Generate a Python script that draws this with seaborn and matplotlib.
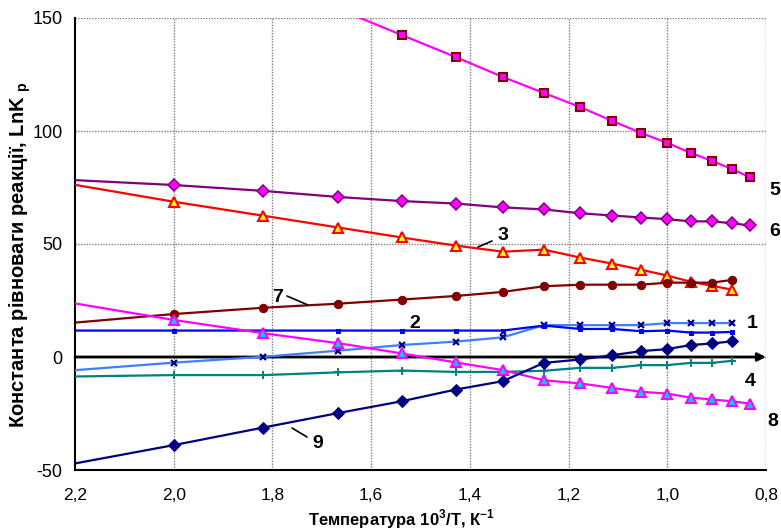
import numpy as np
import pandas as pd
import matplotlib
matplotlib.use("Agg")
import matplotlib.pyplot as plt
import seaborn as sns

# ---- data ----
temperatures = [450, 500, 550, 600, 650, 700, 750, 800, 850, 900, 950, 1000, 1050, 1100, 1150, 1200]
s1 = [-6.2, -2.5, 0.1, 2.8, 5.3, 6.8, 8.7, 14.1, 14.1, 14.1, 14.1, 15.0, 15.0, 15.0, 15.0, None]
s2 = [11.7, 11.7, 11.7, 11.7, 11.7, 11.7, 11.7, 13.9, 12.4, 12.4, 11.4, 11.7, 10.8, 10.8, 11.1, None]
s3 = [77.0, 68.7, 62.5, 57.3, 52.9, 49.3, 46.6, 47.5, 44.0, 41.3, 38.6, 36.0, 33.3, 31.5, 29.8, None]
s4 = [-8.7, -8.0, -8.0, -6.8, -6.0, -6.6, -6.6, -6.1, -4.8, -4.8, -3.6, -3.6, -2.6, -2.6, -1.7, None]
s5 = [None, None, 169.0, 154.0, 142.5, 132.7, 123.9, 116.8, 110.6, 104.4, 99.1, 94.7, 90.3, 86.7, 83.2, 79.6]
s6 = [78.5, 76.1, 73.5, 70.8, 69.0, 67.9, 66.2, 65.3, 63.6, 62.6, 61.7, 61.0, 60.0, 60.0, 59.2, 58.2]
s7 = [14.8, 19.0, 21.8, 23.6, 25.4, 27.0, 28.8, 31.3, 32.0, 32.0, 32.0, 32.9, 32.9, 32.9, 34.1, None]
s8 = [24.5, 16.4, 10.5, 6.1, 1.6, -2.4, -5.8, -10.3, -11.7, -13.7, -15.4, -16.2, -18.0, -18.8, -19.6, -20.6]
s9 = [-48.0, -39.0, -31.2, -24.8, -19.6, -14.4, -10.7, -2.6, -1.1, 0.8, 2.6, 3.5, 5.3, 6.0, 6.9, None]

series_names = ["1", "2", "3", "4", "5", "6", "7", "8", "9"]
series_values = [s1, s2, s3, s4, s5, s6, s7, s8, s9]

x_ticks = [2.2, 2.0, 1.8, 1.6, 1.4, 1.2, 1.0, 0.8]
x_tick_labels = ["2,2", "2,0", "1,8", "1,6", "1,4", "1,2", "1,0", "0,8"]
y_ticks = [-50, 0, 50, 100, 150]
y_tick_labels = ["-50", "0", "50", "100", "150"]

rows = []
for name, vals in zip(series_names, series_values):
    for T, v in zip(temperatures, vals):
        if v is not None:
            rows.append({"series": name, "x": 1000.0 / T, "y": v})
df = pd.DataFrame(rows)

# ---- styles ----
styles = {
    "1": dict(color="#3F7FFF", marker="x", markerfacecolor="#000080", markeredgecolor="#000080", markersize=4.5, markeredgewidth=1.6),
    "2": dict(color="#0000FF", marker="s", markerfacecolor="#0000FF", markeredgecolor="#0000FF", markersize=3.5),
    "3": dict(color="#FF0000", marker="^", markerfacecolor="#FFFF00", markeredgecolor="#FF0000", markersize=7, markeredgewidth=1.5),
    "4": dict(color="#008080", marker="+", markerfacecolor="#008080", markeredgecolor="#008080", markersize=5.5, markeredgewidth=1.4),
    "5": dict(color="#FF00FF", marker="s", markerfacecolor="#FF00FF", markeredgecolor="#800000", markersize=5.5, markeredgewidth=1.5),
    "6": dict(color="#800080", marker="D", markerfacecolor="#FF00FF", markeredgecolor="#800080", markersize=6, markeredgewidth=1.1),
    "7": dict(color="#800000", marker="o", markerfacecolor="#800000", markeredgecolor="#800000", markersize=6),
    "8": dict(color="#FF00FF", marker="^", markerfacecolor="#00CCFF", markeredgecolor="#FF00FF", markersize=7, markeredgewidth=1.5),
    "9": dict(color="#000080", marker="D", markerfacecolor="#000080", markeredgecolor="#000080", markersize=6),
}

sns.set_theme(style="white")
plt.rcParams["font.family"] = ["Liberation Sans", "DejaVu Sans"]
plt.rcParams["mathtext.fontset"] = "custom"
plt.rcParams["mathtext.rm"] = "Liberation Sans"
plt.rcParams["mathtext.bf"] = "Liberation Sans:bold"
plt.rcParams["axes.unicode_minus"] = False

fig = plt.figure(figsize=(7.81, 5.32), dpi=100)
ax = fig.add_axes([75 / 781, 1 - 470 / 532, (766 - 75) / 781, (470 - 18) / 532])

# grid
for xv in x_ticks[1:]:
    ax.axvline(xv, color="#808080", lw=1, ls=(0, (1, 1)), zorder=0)
for yv in y_ticks[1:]:
    ax.axhline(yv, color="#808080", lw=1, ls=(0, (1, 1)), zorder=0)

for name in series_names:
    d = df[df["series"] == name]
    sns.lineplot(data=d, x="x", y="y", ax=ax, sort=False, estimator=None,
                 linewidth=1.6, legend=False, zorder=3, **styles[name])

ax.set_xlim(2.2, 0.8)
ax.set_ylim(-50, 150)
ax.set_xticks(x_ticks)
ax.set_xticklabels(x_tick_labels)
ax.set_yticks(y_ticks)
ax.set_yticklabels(y_tick_labels)
ax.tick_params(axis="x", direction="out", length=6, width=1.2, labelsize=12.5, pad=7, colors="black")
ax.tick_params(axis="y", direction="inout", length=10, width=1.2, labelsize=13, pad=4, colors="black")

for side in ["top", "right"]:
    ax.spines[side].set_visible(False)
for side in ["left", "bottom"]:
    ax.spines[side].set_color("black")
    ax.spines[side].set_linewidth(1.5)

# zero axis with arrow
ax.annotate("", xy=(0.8, 0), xytext=(2.2, 0), xycoords="data",
            arrowprops=dict(arrowstyle="-|>", color="black", lw=2, mutation_scale=12,
                            shrinkA=0, shrinkB=0), zorder=2, annotation_clip=False)

ax.set_xlabel("")
ax.set_ylabel("")
fig.text(401 / 781, 1 - 519 / 532, "Температура 10$^{\\mathbf{3}}$/Т, К$^{\\mathbf{-1}}$", fontsize=12,
         fontweight="bold", family=["Liberation Sans Narrow", "Liberation Sans"],
         ha="center", va="center", color="black")
fig.text(20 / 781, 1 - 255 / 532, "Константа рівноваги реакції, LnK $_{\\mathregular{p}}$", fontsize=14.5,
         fontweight="bold", rotation=90, ha="center", va="center", color="black")

# series labels
lab_kw = dict(fontsize=14, fontweight="bold", color="black", ha="center", va="center")
def px(xp, yp):
    return (xp / 781, 1 - yp / 532)
for txt, (xp, yp) in {"5": (775, 190), "6": (775, 231), "1": (752, 324), "4": (750, 382),
                      "8": (773, 421), "3": (503, 235), "7": (278, 297), "2": (415, 323),
                      "9": (318, 444)}.items():
    fig.text(*px(xp, yp), txt, **lab_kw)

for (x0, y0), (x1, y1) in [((478, 247), (492, 241)), ((287, 296), (308, 305)), ((292, 428), (307, 437))]:
    fig.add_artist(plt.Line2D([x0 / 781, x1 / 781], [1 - y0 / 532, 1 - y1 / 532], color="black", lw=1.2))

fig.savefig("out.png", dpi=100)
